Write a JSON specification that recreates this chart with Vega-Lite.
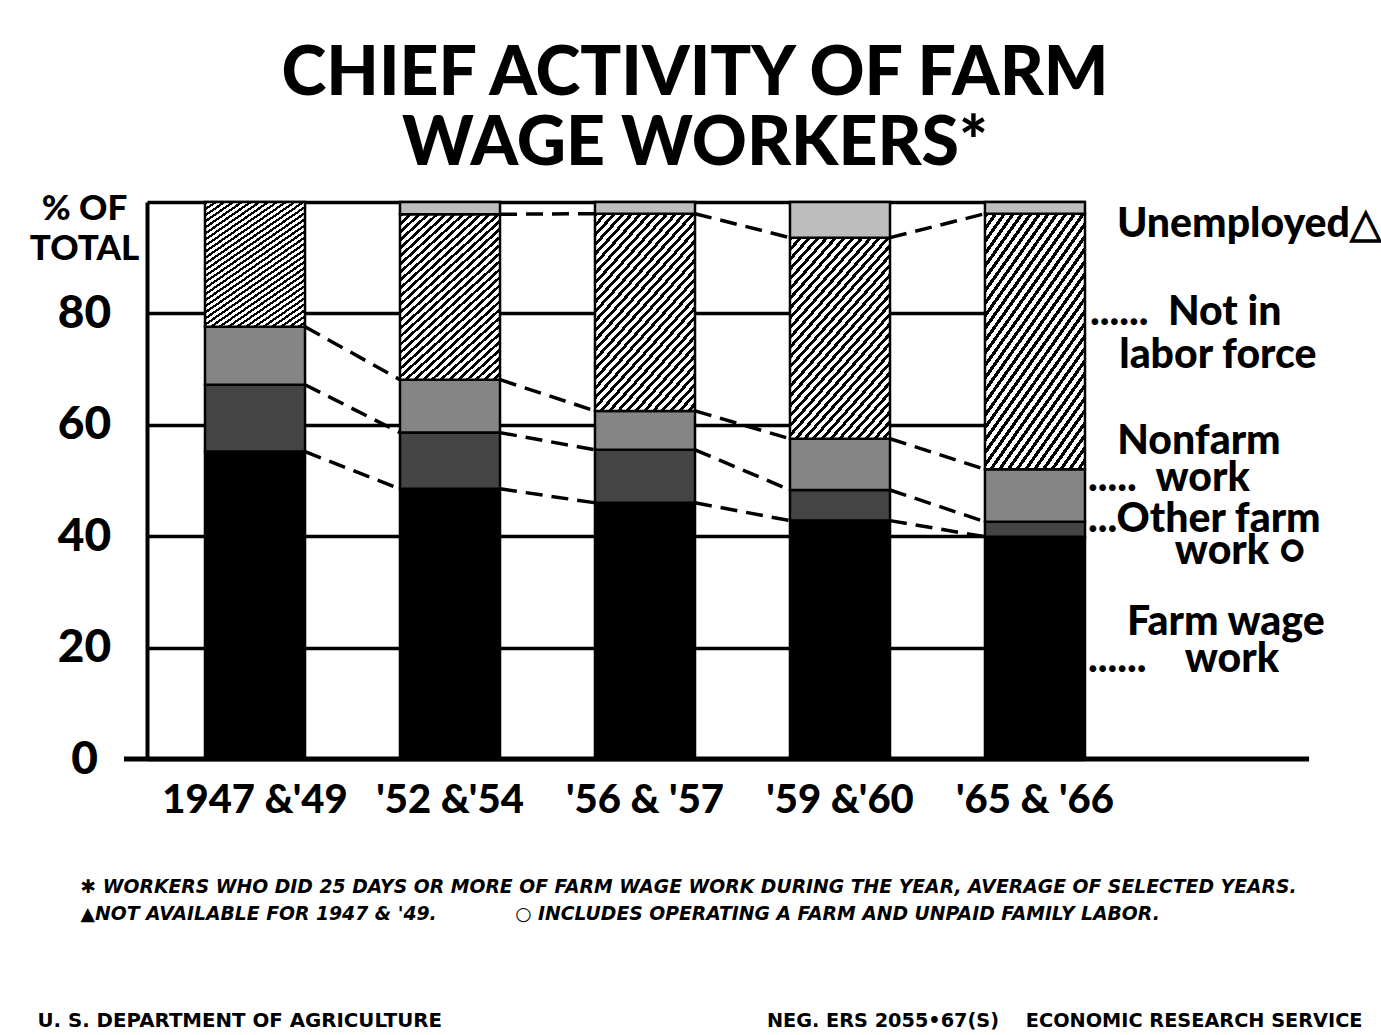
{
  "$schema": "https://vega.github.io/schema/vega-lite/v6.json",
  "width": 938,
  "height": 557,
  "autosize": {"type": "none"},
  "padding": {"left": 147, "top": 202, "right": 296, "bottom": 276},
  "background": "white",
  "config": {"view": {"stroke": null}, "font": "Lato"},
  "title": {
    "text": ["CHIEF ACTIVITY OF FARM", "WAGE WORKERS*"],
    "anchor": "middle",
    "frame": "group",
    "dx": 79,
    "offset": 12,
    "font": "Lato",
    "fontSize": 68,
    "fontWeight": 900,
    "lineHeight": 70,
    "color": "#000"
  },
  "layer": [
    {
      "data": {
        "values": [
          {"period": "1947 &'49", "activity": "Farm wage work", "pct": 55.2},
          {"period": "1947 &'49", "activity": "Other farm work", "pct": 12.0},
          {"period": "1947 &'49", "activity": "Nonfarm work", "pct": 10.4},
          {"period": "1947 &'49", "activity": "Not in labor force", "pct": 22.4},
          {"period": "'52 &'54", "activity": "Farm wage work", "pct": 48.5},
          {"period": "'52 &'54", "activity": "Other farm work", "pct": 10.1},
          {"period": "'52 &'54", "activity": "Nonfarm work", "pct": 9.5},
          {"period": "'52 &'54", "activity": "Not in labor force", "pct": 29.7},
          {"period": "'52 &'54", "activity": "Unemployed", "pct": 2.2},
          {"period": "'56 & '57", "activity": "Farm wage work", "pct": 46.0},
          {"period": "'56 & '57", "activity": "Other farm work", "pct": 9.5},
          {"period": "'56 & '57", "activity": "Nonfarm work", "pct": 7.0},
          {"period": "'56 & '57", "activity": "Not in labor force", "pct": 35.4},
          {"period": "'56 & '57", "activity": "Unemployed", "pct": 2.1},
          {"period": "'59 &'60", "activity": "Farm wage work", "pct": 42.8},
          {"period": "'59 &'60", "activity": "Other farm work", "pct": 5.5},
          {"period": "'59 &'60", "activity": "Nonfarm work", "pct": 9.2},
          {"period": "'59 &'60", "activity": "Not in labor force", "pct": 36.1},
          {"period": "'59 &'60", "activity": "Unemployed", "pct": 6.4},
          {"period": "'65 & '66", "activity": "Farm wage work", "pct": 39.9},
          {"period": "'65 & '66", "activity": "Other farm work", "pct": 2.7},
          {"period": "'65 & '66", "activity": "Nonfarm work", "pct": 9.4},
          {"period": "'65 & '66", "activity": "Not in labor force", "pct": 45.9},
          {"period": "'65 & '66", "activity": "Unemployed", "pct": 2.1}
        ]
      },
      "transform": [
        {"calculate": "indexof(['Farm wage work', 'Other farm work', 'Nonfarm work', 'Not in labor force', 'Unemployed'], datum.activity)", "as": "rank"},
        {"calculate": "indexof([\"1947 &'49\", \"'52 &'54\", \"'56 & '57\", \"'59 &'60\", \"'65 & '66\"], datum.period)", "as": "pidx"},
        {"stack": "pct", "groupby": ["period"], "sort": [{"field": "rank", "order": "ascending"}], "as": ["y0", "y1"]}
      ],
      "encoding": {
        "x": {
          "field": "period",
          "type": "nominal",
          "scale": {
            "domain": ["1947 &'49", "'52 &'54", "'56 & '57", "'59 &'60", "'65 & '66"],
            "paddingInner": 0.487,
            "paddingOuter": 0.1487,
            "align": 1
          },
          "axis": {
            "title": [
              "✱ WORKERS WHO DID 25 DAYS OR MORE OF FARM WAGE WORK DURING THE YEAR, AVERAGE OF SELECTED YEARS.",
              "▲NOT AVAILABLE FOR 1947 & '49.\u00a0\u00a0\u00a0\u00a0\u00a0\u00a0\u00a0\u00a0\u00a0\u00a0\u00a0\u00a0○ INCLUDES OPERATING A FARM AND UNPAID FAMILY LABOR."
            ],
            "titleX": -67,
            "titleY": 133,
            "titleAlign": "left",
            "titleAnchor": "start",
            "titleBaseline": "alphabetic",
            "titleFont": "DejaVu Sans",
            "titleFontSize": 18.8,
            "titleFontWeight": "bold",
            "titleFontStyle": "italic",
            "titleLineHeight": 27,
            "titleColor": "#000",
            "labelFont": "Lato",
            "labelFontWeight": 900,
            "labelFontSize": 40,
            "labelColor": "#000",
            "labelPadding": 21,
            "labelAngle": 0,
            "labelLimit": 0,
            "ticks": false,
            "domain": false
          }
        }
      },
      "layer": [
        {
          "mark": {"type": "bar", "stroke": "#000", "strokeWidth": 2.5},
          "encoding": {
            "y": {
              "field": "y0",
              "type": "quantitative",
              "scale": {"domain": [0, 100], "nice": false},
              "axis": {
                "title": "U. S. DEPARTMENT OF AGRICULTURE",
                "titleAngle": 0,
                "titleX": -110,
                "titleY": 824,
                "titleAlign": "left",
                "titleBaseline": "alphabetic",
                "titleFont": "DejaVu Sans",
                "titleFontWeight": "bold",
                "titleFontSize": 19.8,
                "titleColor": "#000",
                "values": [0, 20, 40, 60, 80, 100],
                "grid": true,
                "gridColor": "#000",
                "gridWidth": 3.5,
                "gridOpacity": 1,
                "domainColor": "#000",
                "domainWidth": 4,
                "ticks": false,
                "tickSize": 0,
                "labelPadding": 63,
                "labelAlign": "center",
                "labelBaseline": "middle",
                "labelFont": "Lato",
                "labelFontWeight": 900,
                "labelColor": "#000",
                "labelOverlap": false,
                "labelFontSize": {"condition": {"test": "datum.value === 100", "value": 35}, "value": 46},
                "labelOffset": {"condition": {"test": "datum.value === 100", "value": 6}, "value": 0},
                "labelLineHeight": 40,
                "labelExpr": "datum.value === 100 ? ['% OF', 'TOTAL'] : datum.label"
              }
            },
            "y2": {"field": "y1"},
            "fill": {
              "condition": [
                {"test": "datum.activity === 'Farm wage work'", "value": "#000"},
                {"test": "datum.activity === 'Other farm work'", "value": "#444"},
                {"test": "datum.activity === 'Nonfarm work'", "value": "#858585"},
                {"test": "datum.activity === 'Unemployed'", "value": "#bdbdbd"}
              ],
              "value": {
                "gradient": "linear",
                "x1": 0, "y1": 0, "x2": 0.66, "y2": 1.19,
                "stops": [
                  {"offset": 0, "color": "#000"}, {"offset": 0.0141, "color": "#000"}, {"offset": 0.0141, "color": "#fff"}, {"offset": 0.03125, "color": "#fff"},
                  {"offset": 0.03125, "color": "#000"}, {"offset": 0.0454, "color": "#000"}, {"offset": 0.0454, "color": "#fff"}, {"offset": 0.0625, "color": "#fff"},
                  {"offset": 0.0625, "color": "#000"}, {"offset": 0.0766, "color": "#000"}, {"offset": 0.0766, "color": "#fff"}, {"offset": 0.09375, "color": "#fff"},
                  {"offset": 0.09375, "color": "#000"}, {"offset": 0.1079, "color": "#000"}, {"offset": 0.1079, "color": "#fff"}, {"offset": 0.125, "color": "#fff"},
                  {"offset": 0.125, "color": "#000"}, {"offset": 0.1391, "color": "#000"}, {"offset": 0.1391, "color": "#fff"}, {"offset": 0.15625, "color": "#fff"},
                  {"offset": 0.15625, "color": "#000"}, {"offset": 0.1704, "color": "#000"}, {"offset": 0.1704, "color": "#fff"}, {"offset": 0.1875, "color": "#fff"},
                  {"offset": 0.1875, "color": "#000"}, {"offset": 0.2016, "color": "#000"}, {"offset": 0.2016, "color": "#fff"}, {"offset": 0.21875, "color": "#fff"},
                  {"offset": 0.21875, "color": "#000"}, {"offset": 0.2329, "color": "#000"}, {"offset": 0.2329, "color": "#fff"}, {"offset": 0.25, "color": "#fff"},
                  {"offset": 0.25, "color": "#000"}, {"offset": 0.2641, "color": "#000"}, {"offset": 0.2641, "color": "#fff"}, {"offset": 0.28125, "color": "#fff"},
                  {"offset": 0.28125, "color": "#000"}, {"offset": 0.2954, "color": "#000"}, {"offset": 0.2954, "color": "#fff"}, {"offset": 0.3125, "color": "#fff"},
                  {"offset": 0.3125, "color": "#000"}, {"offset": 0.3266, "color": "#000"}, {"offset": 0.3266, "color": "#fff"}, {"offset": 0.34375, "color": "#fff"},
                  {"offset": 0.34375, "color": "#000"}, {"offset": 0.3579, "color": "#000"}, {"offset": 0.3579, "color": "#fff"}, {"offset": 0.375, "color": "#fff"},
                  {"offset": 0.375, "color": "#000"}, {"offset": 0.3891, "color": "#000"}, {"offset": 0.3891, "color": "#fff"}, {"offset": 0.40625, "color": "#fff"},
                  {"offset": 0.40625, "color": "#000"}, {"offset": 0.4204, "color": "#000"}, {"offset": 0.4204, "color": "#fff"}, {"offset": 0.4375, "color": "#fff"},
                  {"offset": 0.4375, "color": "#000"}, {"offset": 0.4516, "color": "#000"}, {"offset": 0.4516, "color": "#fff"}, {"offset": 0.46875, "color": "#fff"},
                  {"offset": 0.46875, "color": "#000"}, {"offset": 0.4829, "color": "#000"}, {"offset": 0.4829, "color": "#fff"}, {"offset": 0.5, "color": "#fff"},
                  {"offset": 0.5, "color": "#000"}, {"offset": 0.5141, "color": "#000"}, {"offset": 0.5141, "color": "#fff"}, {"offset": 0.53125, "color": "#fff"},
                  {"offset": 0.53125, "color": "#000"}, {"offset": 0.5454, "color": "#000"}, {"offset": 0.5454, "color": "#fff"}, {"offset": 0.5625, "color": "#fff"},
                  {"offset": 0.5625, "color": "#000"}, {"offset": 0.5766, "color": "#000"}, {"offset": 0.5766, "color": "#fff"}, {"offset": 0.59375, "color": "#fff"},
                  {"offset": 0.59375, "color": "#000"}, {"offset": 0.6079, "color": "#000"}, {"offset": 0.6079, "color": "#fff"}, {"offset": 0.625, "color": "#fff"},
                  {"offset": 0.625, "color": "#000"}, {"offset": 0.6391, "color": "#000"}, {"offset": 0.6391, "color": "#fff"}, {"offset": 0.65625, "color": "#fff"},
                  {"offset": 0.65625, "color": "#000"}, {"offset": 0.6704, "color": "#000"}, {"offset": 0.6704, "color": "#fff"}, {"offset": 0.6875, "color": "#fff"},
                  {"offset": 0.6875, "color": "#000"}, {"offset": 0.7016, "color": "#000"}, {"offset": 0.7016, "color": "#fff"}, {"offset": 0.71875, "color": "#fff"},
                  {"offset": 0.71875, "color": "#000"}, {"offset": 0.7329, "color": "#000"}, {"offset": 0.7329, "color": "#fff"}, {"offset": 0.75, "color": "#fff"},
                  {"offset": 0.75, "color": "#000"}, {"offset": 0.7641, "color": "#000"}, {"offset": 0.7641, "color": "#fff"}, {"offset": 0.78125, "color": "#fff"},
                  {"offset": 0.78125, "color": "#000"}, {"offset": 0.7954, "color": "#000"}, {"offset": 0.7954, "color": "#fff"}, {"offset": 0.8125, "color": "#fff"},
                  {"offset": 0.8125, "color": "#000"}, {"offset": 0.8266, "color": "#000"}, {"offset": 0.8266, "color": "#fff"}, {"offset": 0.84375, "color": "#fff"},
                  {"offset": 0.84375, "color": "#000"}, {"offset": 0.8579, "color": "#000"}, {"offset": 0.8579, "color": "#fff"}, {"offset": 0.875, "color": "#fff"},
                  {"offset": 0.875, "color": "#000"}, {"offset": 0.8891, "color": "#000"}, {"offset": 0.8891, "color": "#fff"}, {"offset": 0.90625, "color": "#fff"},
                  {"offset": 0.90625, "color": "#000"}, {"offset": 0.9204, "color": "#000"}, {"offset": 0.9204, "color": "#fff"}, {"offset": 0.9375, "color": "#fff"},
                  {"offset": 0.9375, "color": "#000"}, {"offset": 0.9516, "color": "#000"}, {"offset": 0.9516, "color": "#fff"}, {"offset": 0.96875, "color": "#fff"},
                  {"offset": 0.96875, "color": "#000"}, {"offset": 0.9829, "color": "#000"}, {"offset": 0.9829, "color": "#fff"}, {"offset": 1, "color": "#fff"}
                ]
              }
            }
          }
        },
        {
          "transform": [
            {"window": [{"op": "lead", "field": "y1", "as": "ny"}, {"op": "lead", "field": "period", "as": "np"}], "groupby": ["activity"], "sort": [{"field": "pidx", "order": "ascending"}]},
            {"filter": "datum.np != null && datum.activity !== 'Unemployed' && !(datum.activity === 'Not in labor force' && datum.pidx === 0)"}
          ],
          "mark": {"type": "rule", "strokeDash": [17, 9], "strokeWidth": 3.5, "color": "#000"},
          "encoding": {
            "x": {"field": "period", "type": "nominal", "bandPosition": 1},
            "x2": {"field": "np", "bandPosition": 0},
            "y": {"field": "y1", "type": "quantitative"},
            "y2": {"field": "ny"}
          }
        },
        {
          "transform": [
            {"filter": "datum.pidx === 4"},
            {"calculate": "(datum.y0 + datum.y1) / 2", "as": "ymid"}
          ],
          "encoding": {
            "x": {"field": "period", "type": "nominal", "bandPosition": 1},
            "y": {"field": "ymid", "type": "quantitative"}
          },
          "layer": [
            {
              "transform": [{"filter": "datum.activity === 'Unemployed'"}],
              "mark": {"type": "text", "align": "left", "baseline": "middle", "dx": 32, "dy": 17, "font": "Lato", "fontWeight": 900, "fontSize": 41, "lineHeight": 38, "color": "#000", "text": "Unemployed△"}
            },
            {
              "transform": [{"filter": "datum.activity === 'Not in labor force'"}],
              "mark": {"type": "text", "align": "left", "baseline": "middle", "dx": 5, "dy": -29, "font": "Lato", "fontWeight": 900, "fontSize": 41, "lineHeight": 43, "color": "#000", "text": ["......\u00a0\u00a0Not in", "\u200b\u00a0\u00a0\u00a0labor force"]}
            },
            {
              "transform": [{"filter": "datum.activity === 'Nonfarm work'"}],
              "mark": {"type": "text", "align": "left", "baseline": "middle", "dx": 3, "dy": -54, "font": "Lato", "fontWeight": 900, "fontSize": 41, "lineHeight": 37, "color": "#000", "text": ["\u200b\u00a0\u00a0\u00a0Nonfarm", ".....\u00a0\u00a0work"]}
            },
            {
              "transform": [{"filter": "datum.activity === 'Other farm work'"}],
              "mark": {"type": "text", "align": "left", "baseline": "middle", "dx": 3, "dy": -9, "font": "Lato", "fontWeight": 900, "fontSize": 41, "lineHeight": 32, "color": "#000", "text": ["...Other farm", "\u200b\u00a0\u00a0\u00a0\u00a0\u00a0\u00a0\u00a0\u00a0\u00a0work ○"]}
            },
            {
              "transform": [{"filter": "datum.activity === 'Farm wage work'"}],
              "mark": {"type": "text", "align": "left", "baseline": "middle", "dx": 3, "dy": -25, "font": "Lato", "fontWeight": 900, "fontSize": 41, "lineHeight": 37, "color": "#000", "text": ["\u200b\u00a0\u00a0\u00a0\u00a0Farm wage", "......\u00a0\u00a0\u00a0\u00a0work"]}
            }
          ]
        }
      ]
    },
    {
      "data": {"values": [{}]},
      "mark": {"type": "rule", "strokeWidth": 5, "color": "#000"},
      "encoding": {
        "x": {"datum": "1947 &'49", "bandPosition": -0.81},
        "x2": {"datum": "'65 & '66", "bandPosition": 3.24},
        "y": {
          "datum": 0,
          "type": "quantitative",
          "scale": {"domain": [0, 100], "nice": false},
          "axis": {
            "orient": "right",
            "title": "NEG. ERS 2055•67(S)\u00a0\u00a0\u00a0\u00a0ECONOMIC RESEARCH SERVICE",
            "titleAngle": 0,
            "titleX": 277,
            "titleY": 824,
            "titleAlign": "right",
            "titleBaseline": "alphabetic",
            "titleFont": "DejaVu Sans",
            "titleFontWeight": "bold",
            "titleFontSize": 19.3,
            "titleColor": "#000",
            "labels": false,
            "ticks": false,
            "domain": false,
            "grid": false
          }
        }
      }
    }
  ],
  "resolve": {"scale": {"y": "independent"}}
}
